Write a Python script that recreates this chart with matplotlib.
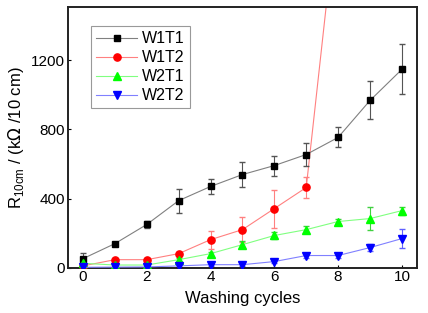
import numpy as np
import matplotlib.pyplot as plt

plt.rcParams['font.family'] = ['Liberation Sans', 'DejaVu Sans']

# Data
cycles = [0, 1, 2, 3, 4, 5, 6, 7, 8, 9, 10]

w1t1 = [52, 139, 250, 388, 470, 539, 591, 655, 754, 968, 1148]
w1t1_err = [35, 12, 20, 70, 45, 72, 58, 64, 58, 110, 145]

w1t2_x = [0, 1, 2, 3, 4, 5, 6, 7]
w1t2 = [10, 46, 46, 81, 162, 220, 342, 464]
w1t2_err = [4, 6, 8, 10, 52, 72, 110, 58]
w1t2_next = 2140  # off-scale value at cycle 8

w2t1 = [25, 15, 15, 46, 81, 133, 186, 220, 267, 284, 330]
w2t1_err = [8, 5, 5, 8, 12, 20, 18, 20, 15, 67, 23]

w2t2 = [2, 3, 4, 10, 17, 17, 35, 70, 70, 116, 168]
w2t2_err = [2, 2, 2, 4, 6, 8, 10, 12, 12, 18, 55]

labels = ['W1T1', 'W1T2', 'W2T1', 'W2T2']

fig, ax = plt.subplots(figsize=(4.28, 3.13), dpi=100)
fig.subplots_adjust(left=0.159, right=0.974, top=0.978, bottom=0.145)

lw = 0.8
series = [
    (cycles, w1t1, w1t1_err, '#808080', '#555555', 's', 4.5, 'black'),
    (w1t2_x, w1t2, w1t2_err, '#ff8080', '#ff8080', 'o', 5.2, 'red'),
    (cycles, w2t1, w2t1_err, '#80ff80', '#40d040', '^', 5.6, '#00ff00'),
    (cycles, w2t2, w2t2_err, '#8080ff', '#6060ff', 'v', 5.6, 'blue'),
]

# red line continues off the top of the axes
ax.plot(w1t2_x[-1:] + [8], w1t2[-1:] + [w1t2_next], color='#ff8080', lw=lw, zorder=2)

for (x, y, e, lc, ec, m, ms, fc), lab in zip(series, labels):
    ax.errorbar(x, y, yerr=e, fmt='none', ecolor=ec, elinewidth=0.8, capsize=2.5, zorder=2)
    ax.plot(x, y, color=lc, lw=lw, marker=m, ms=ms, mfc=fc, mec=fc, label=lab, zorder=3)

ax.set_xlim(-0.47, 10.47)
ax.set_ylim(0, 1510)
ax.set_xticks([0, 2, 4, 6, 8, 10])
ax.set_yticks([0, 400, 800, 1200])
ax.tick_params(direction='in', length=2, labelsize=11, pad=2)
for s in ax.spines.values():
    s.set_linewidth(1.4)
    s.set_color('#222222')

ax.set_xlabel('Washing cycles', fontsize=12, labelpad=5)
ax.set_ylabel(r'R$_{\mathregular{10cm}}$ / (k$\Omega$ /10 cm)', fontsize=12, labelpad=4)

leg = ax.legend(loc='upper left', bbox_to_anchor=(0.066, 0.925), fontsize=11.5, frameon=True,
                fancybox=False, edgecolor='#808080', handlelength=2.6, borderpad=0.3,
                labelspacing=0.25, handletextpad=0.3, borderaxespad=0)
leg.get_frame().set_linewidth(0.8)

plt.savefig('out.png', dpi=100)
